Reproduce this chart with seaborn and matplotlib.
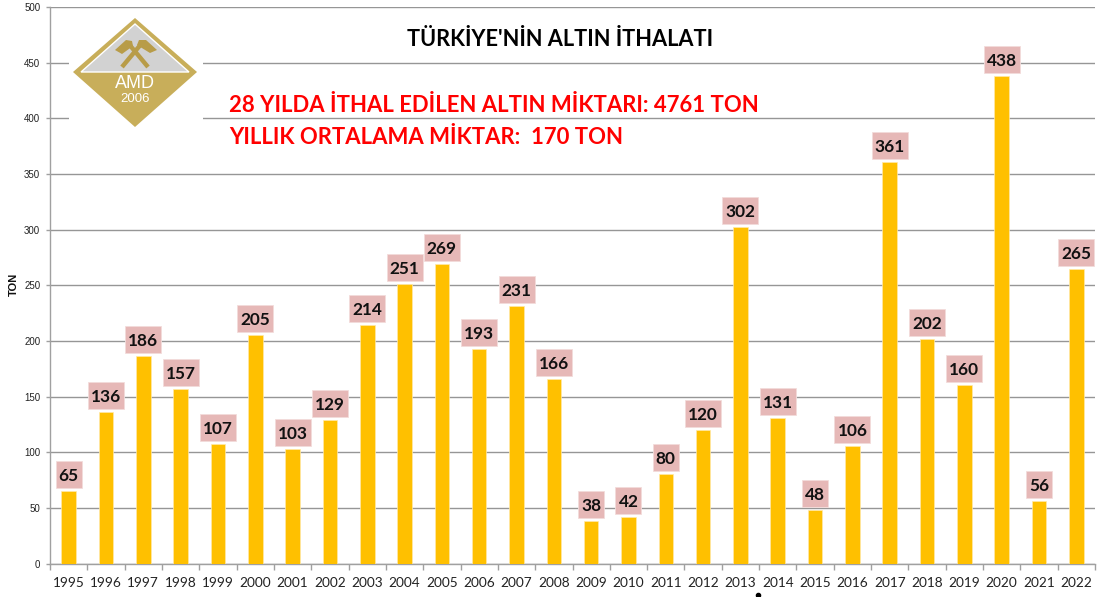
import matplotlib
matplotlib.use("Agg")
import matplotlib.pyplot as plt
from matplotlib.patches import Polygon, Rectangle
from matplotlib.transforms import Affine2D, ScaledTranslation
import pandas as pd
import seaborn as sns

years = list(range(1995, 2023))
tons = [65, 136, 186, 157, 107, 205, 103, 129, 214, 251, 269, 193, 231, 166,
        38, 42, 80, 120, 302, 131, 48, 106, 361, 202, 160, 438, 56, 265]
title = "TÜRKİYE'NİN ALTIN İTHALATI"
note_total = "28 YILDA İTHAL EDİLEN ALTIN MİKTARI: 4761 TON"
note_mean = "YILLIK ORTALAMA MİKTAR:  170 TON"

W, H = 1099, 597
sns.set_theme(style="white")
plt.rcParams["font.family"] = ["Lato", "DejaVu Sans"]
df = pd.DataFrame({"year": years, "ton": tons})

fig = plt.figure(figsize=(W / 100, H / 100), dpi=100, facecolor="white")
ax = fig.add_axes([50 / W, 1 - 563.5 / H, 1045 / W, 556.5 / H])
sns.barplot(data=df, x="year", y="ton", color="#FFC000", saturation=1, width=0.39,
            edgecolor="#FFE9A8", linewidth=0.5, ax=ax, zorder=3)
ax.set_xlim(-0.5, 27.5)
ax.set_ylim(0, 500)
ax.set_yticks(range(0, 501, 50))
ax.yaxis.grid(True, color="#969696", lw=1)
ax.xaxis.grid(False)
ax.set_axisbelow(True)
for s in ("top", "right"):
    ax.spines[s].set_visible(False)
for s in ("left", "bottom"):
    ax.spines[s].set_color("#A0A0A0")
    ax.spines[s].set_linewidth(1)
ax.set_xticks([i - 0.5 for i in range(29)], minor=True)
ax.tick_params(axis="x", which="minor", length=4, color="#A0A0A0", width=1, bottom=True)
ax.tick_params(axis="x", which="major", length=0, labelsize=9.8, labelcolor="#222222", pad=9.5)
ax.tick_params(axis="y", which="major", length=3, width=1, color="#A0A0A0", left=True,
               pad=4, labelcolor="#222222")
for t in ax.get_yticklabels():
    t.set_fontfamily("Liberation Sans")
    t.set_fontsize(7)
ax.set_xlabel("")
ax.set_ylabel("")

for i, v in enumerate(tons):
    w = 36 if v >= 100 else 26
    box = Affine2D().scale(w, 27).translate(-w / 2, 3) + ScaledTranslation(i, v, ax.transData)
    ax.add_patch(Rectangle((0, 0), 1, 1, transform=box, fc="#E6B8B7", ec="#F3DCDB", lw=0.6,
                           zorder=4, clip_on=False))
    ax.annotate(str(v), (i, v), xytext=(0, 10.8), textcoords="offset points",
                ha="center", va="center", fontsize=12.4, fontweight="bold", color="#111111",
                zorder=5)

ov = fig.add_axes([0, 0, 1, 1], facecolor="none")
ov.set_xlim(0, W)
ov.set_ylim(H, 0)
ov.axis("off")
ov.text(14, 284, "TON", rotation=90, ha="center", va="center", fontsize=8,
        fontweight="bold", family="Liberation Sans", color="#111111")
ov.text(560, 39.5, title, ha="center", va="center", fontsize=15.7, fontweight="bold", color="black")
ov.text(229, 105, note_total, ha="left", va="center", fontsize=15.95, fontweight="bold", color="#FF0000")
ov.text(229, 137, note_mean, ha="left", va="center", fontsize=15.95, fontweight="bold", color="#FF0000")
ov.plot([758], [595], marker="o", ms=3, color="black", clip_on=False)

# logo
gold, dark = "#C8AE5A", "#B89C48"
ov.add_patch(Rectangle((69, 14), 134, 114, fc="white", ec="none"))
ov.add_patch(Polygon([(135, 18), (197, 72), (135, 127), (73, 72)], fc=gold, ec="none"))
ov.add_patch(Polygon([(135, 24), (189, 72), (81, 72)], fc="#D2D2D2", ec="white", lw=1))
ov.plot([122, 142], [67, 43], color=dark, lw=3.2, solid_capstyle="butt")
ov.plot([148, 128], [67, 43], color=dark, lw=3.2, solid_capstyle="butt")
ov.add_patch(Polygon([(115, 50), (126, 40), (132, 41), (133, 46), (122, 54)], fc=dark, ec="none"))
ov.add_patch(Polygon([(139, 40), (146, 40), (157, 50), (150, 53), (137, 45)], fc=dark, ec="none"))
ov.text(135, 84, "AMD", ha="center", va="center", fontsize=13, color="white", family="Liberation Sans")
ov.text(135, 99, "2006", ha="center", va="center", fontsize=9.5, color="white", family="Liberation Sans")

fig.savefig("out.png", dpi=100)
